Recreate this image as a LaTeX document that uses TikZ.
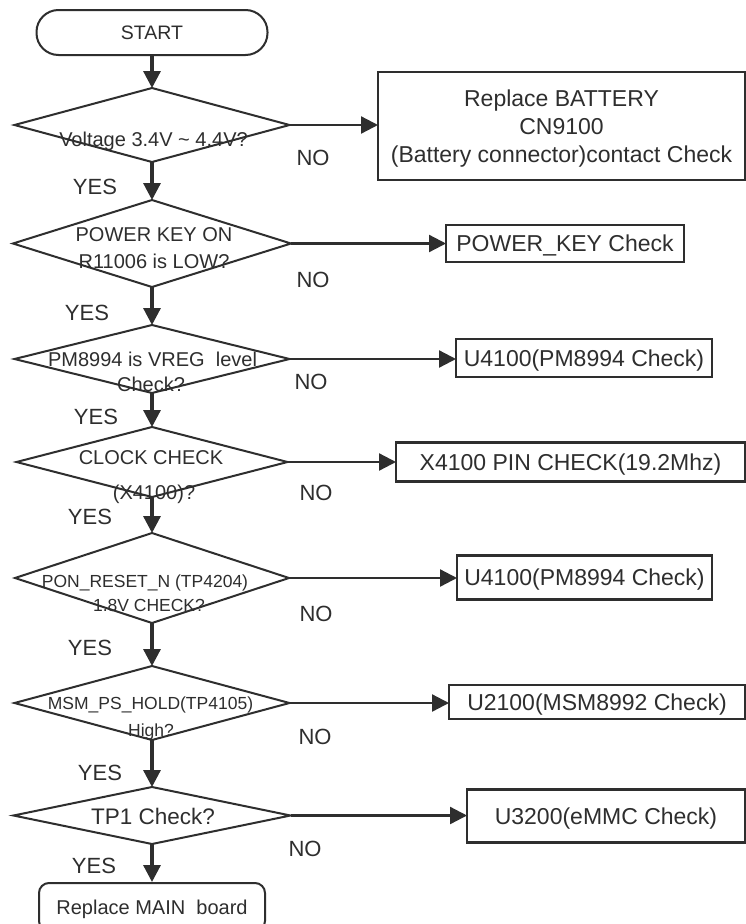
\documentclass[tikz,border=0pt]{standalone}
\usepackage{fontspec}
\setmainfont{Liberation Sans}
\usetikzlibrary{shapes.geometric,arrows.meta}
\definecolor{ink}{HTML}{2E2E2E}
\begin{document}
\begin{tikzpicture}[x=1pt,y=-1pt,
  dia/.style={draw=ink,line width=2pt,diamond,inner sep=0pt,outer sep=0pt},
  box/.style={draw=ink,line width=2.3pt,rectangle,inner sep=0pt,outer sep=0pt,text=ink,
    font=\fontsize{23}{28}\selectfont,text height=16.5pt,text depth=0pt},
  dt/.style={text=ink,inner sep=0pt,font=\fontsize{20}{24}\selectfont,text height=14.3pt,text depth=0pt},
  dts/.style={text=ink,inner sep=0pt,font=\fontsize{17.5}{21}\selectfont,text height=12.5pt,text depth=0pt},
  dtl/.style={text=ink,inner sep=0pt,font=\fontsize{22.5}{27}\selectfont,text height=16.1pt,text depth=0pt},
  yn/.style={text=ink,inner sep=0pt,font=\fontsize{22}{26}\selectfont,text height=15.8pt,text depth=0pt},
  varrow/.style={draw=ink,line width=3.2pt,-{Triangle[length=17pt,width=17pt]}},
  harrow/.style={draw=ink,line width=2.3pt,-{Triangle[length=17pt,width=17pt]}},
]
\useasboundingbox[fill=white] (0,0) rectangle (746,924);

% start terminal
\node[draw=ink,line width=2pt,rectangle,rounded corners=22pt,minimum width=231pt,minimum height=45pt,
  inner sep=0pt,text=ink,font=\fontsize{19.5}{23}\selectfont,text height=14pt,text depth=0pt] (start) at (152,32.5) {START};

% decisions
\node[dia,minimum width=275pt,minimum height=74pt] (d1) at (152,125) {};
\node[dia,minimum width=278pt,minimum height=87pt] (d2) at (152,243.5) {};
\node[dia,minimum width=275pt,minimum height=68pt] (d3) at (152,359) {};
\node[dia,minimum width=271pt,minimum height=70pt] (d4) at (152,462) {};
\node[dia,minimum width=274pt,minimum height=90pt] (d5) at (152,578) {};
\node[dia,minimum width=275pt,minimum height=74pt] (d6) at (152,703) {};
\node[dia,minimum width=277pt,minimum height=57pt] (d7) at (152,815.5) {};

% decision texts
\node[dt] (t1) at (153.5,139) {Voltage 3.4V \textasciitilde\ 4.4V?};
\node[dt] (t2a) at (154,234) {POWER KEY ON};
\node[dt] (t2b) at (154,261) {R11006 is LOW?};
\node[dt] (t3a) at (152.5,359) {PM8994 is VREG\ \ level};
\node[dt] (t3b) at (151,384) {Check?};
\node[dt] (t4a) at (151,457.5) {CLOCK CHECK};
\node[dt] (t4b) at (154,492) {(X4100)?};
\node[dts] (t5a) at (145,581.7) {PON\_RESET\_N (TP4204)};
\node[dts] (t5b) at (149,605) {1.8V CHECK?};
\node[dts] (t6a) at (150.5,703.7) {MSM\_PS\_HOLD(TP4105)};
\node[dts] (t6b) at (151,730) {High?};
\node[dtl] (t7) at (153,816.7) {TP1 Check?};

% result boxes
\node[draw=ink,line width=2.3pt,rectangle,inner sep=0pt,outer sep=0pt,minimum width=367pt,minimum height=108pt] (b1) at (561.5,126) {};
\node[text=ink,inner sep=0pt,align=center,font=\fontsize{23}{28}\selectfont] (b1t) at (561.5,128.4)
  {Replace BATTERY\\CN9100\\(Battery connector)contact Check};
\node[box,minimum width=238pt,minimum height=37pt] (b2) at (565,243.5) {POWER\_KEY Check};
\node[box,minimum width=256pt,minimum height=38pt] (b3) at (584,358) {U4100(PM8994 Check)};
\node[box,minimum width=349pt,minimum height=39pt] (b4) at (570.5,462) {X4100 PIN CHECK(19.2Mhz)};
\node[box,minimum width=255pt,minimum height=44pt] (b5) at (584.5,577.5) {U4100(PM8994 Check)};
\node[box,minimum width=296pt,minimum height=34pt] (b6) at (597,702) {U2100(MSM8992 Check)};
\node[box,minimum width=278pt,minimum height=53pt] (b7) at (606,816) {U3200(eMMC Check)};

% final
\node[draw=ink,line width=2pt,rectangle,rounded corners=10pt,minimum width=226pt,minimum height=48pt,
  inner sep=0pt,text=ink,font=\fontsize{20}{24}\selectfont,text height=14.3pt,text depth=0pt] (fin) at (152,907) {Replace MAIN\ \ board};

% vertical flow
\draw[varrow] (start.south) -- (d1.north);
\draw[varrow] (d1.south) -- (d2.north);
\draw[varrow] (d2.south) -- (d3.north);
\draw[varrow] (d3.south) -- (d4.north);
\draw[varrow] (d4.south) -- (d5.north);
\draw[varrow] (d5.south) -- (d6.north);
\draw[varrow] (d6.south) -- (d7.north);
\draw[varrow] (d7.south) -- (fin.north);

% horizontal flow
\draw[harrow] (d1.east) -- (d1.east -| b1.west);
\draw[harrow] (d2.east) -- (d2.east -| b2.west);
\draw[harrow] (d3.east) -- (d3.east -| b3.west);
\draw[harrow] (d4.east) -- (d4.east -| b4.west);
\draw[harrow] (d5.east) -- (d5.east -| b5.west);
\draw[harrow] (d6.east) -- (d6.east -| b6.west);
\draw[harrow] (d7.east) -- (d7.east -| b7.west);

% labels
\node[yn] (n1) at (313,158) {NO};
\node[yn] (n2) at (313,280) {NO};
\node[yn] (n3) at (311,382) {NO};
\node[yn] (n4) at (316,493) {NO};
\node[yn] (n5) at (316,614) {NO};
\node[yn] (n6) at (315,737) {NO};
\node[yn] (n7) at (305,849) {NO};
\node[yn] (y1) at (95,187) {YES};
\node[yn] (y2) at (87,313) {YES};
\node[yn] (y3) at (96,417) {YES};
\node[yn] (y4) at (90,517) {YES};
\node[yn] (y5) at (90,648) {YES};
\node[yn] (y6) at (100,773) {YES};
\node[yn] (y7) at (94,866) {YES};
\end{tikzpicture}
\end{document}
